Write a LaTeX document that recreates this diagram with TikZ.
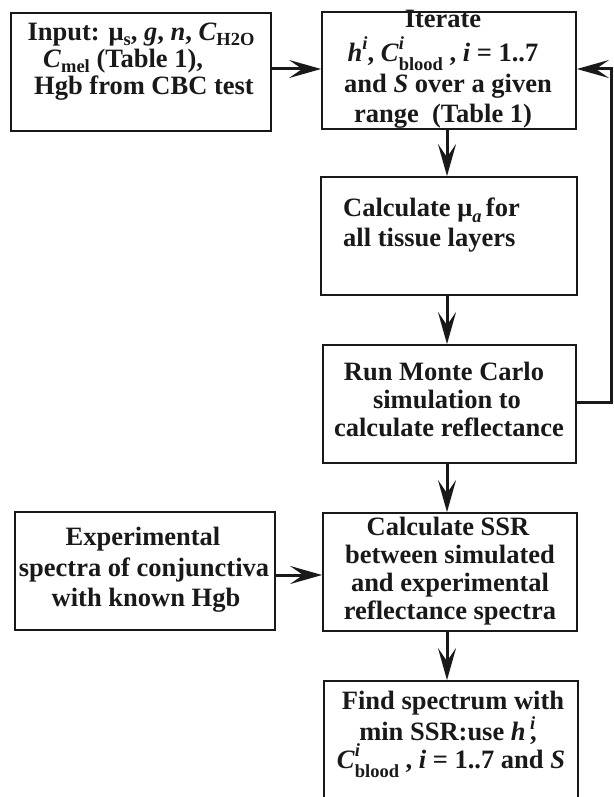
\documentclass[tikz,border=0pt]{standalone}
\usepackage{fontspec}
\setmainfont{Liberation Serif}
\usetikzlibrary{arrows.meta}
\newcommand\mainfs{\fontsize{26.5}{28}\selectfont}
\newcommand\smfs{\fontsize{18.5}{19}\selectfont}
\newcommand\lowr[1]{\raisebox{-5pt}{\smfs #1}}
\newcommand\upr[1]{\raisebox{12pt}{\smfs #1}}
\newcommand\stk[2]{\rlap{\raisebox{12pt}{\smfs #1}}\raisebox{-9pt}{\smfs #2}}
\newcommand\stkc[2]{\rlap{\raisebox{11pt}{\smfs #1}}#2}
\begin{document}
\begin{tikzpicture}[x=1pt,y=-1pt,
  box/.style={draw=black!90,line width=1.8pt,inner sep=0pt,fill=none},
  txt/.style={inner sep=0pt,anchor=base,font=\mainfs\bfseries,text=black!90},
  arr/.style={draw=black!90,line width=3pt,line join=miter,-{Stealth[length=32pt,width=18pt,inset=13pt]}}]
\useasboundingbox (0,0) rectangle (613,797);
% boxes
\node[box,minimum width=260pt,minimum height=118pt] (b1) at (141,72) {};
\node[box,minimum width=254pt,minimum height=117pt] (b2) at (449,70.5) {};
\node[box,minimum width=256pt,minimum height=118pt] (b3) at (449,236) {};
\node[box,minimum width=253pt,minimum height=118pt] (b4) at (449.5,404) {};
\node[box,minimum width=254pt,minimum height=118pt] (b5) at (450,572) {};
\node[box,minimum width=260pt,minimum height=118pt] (b6) at (145,571) {};
\node[box,minimum width=254pt,minimum height=120pt] (b7) at (451,741) {};
% texts
\node[txt] (t1a) at (141,41) {Input: μ\lowr{s}, \textit{g}, \textit{n}, \textit{C}\lowr{H2O}};
\node[txt,anchor=base west] (t1b) at (43,68) {\textit{C}\lowr{mel} (Table 1),};
\node[txt] (t1c) at (144,95) {Hgb from CBC test};
\node[txt] (t2a) at (443,28) {Iterate};
\node[txt] (t2b) at (443,62) {\textit{h}\upr{\textit{i}}, \textit{C}\stk{\textit{i}}{blood} , \textit{i} = 1..7};
\node[txt] (t2c) at (448,93) {and \textit{S} over a given};
\node[txt] (t2d) at (443,122) {range\ \ (Table 1)};
\node[txt,anchor=base west] (t3a) at (343,216) {Calculate μ\raisebox{-6pt}{\smfs\textit{a}}\,for};
\node[txt,anchor=base west] (t3b) at (343,246) {all tissue layers};
\node[txt] (t4a) at (444,380) {Run Monte Carlo};
\node[txt] (t4b) at (447,408) {simulation to};
\node[txt] (t4c) at (449,436) {calculate reflectance};
\node[txt] (t5a) at (448,535) {Calculate SSR};
\node[txt] (t5b) at (450,563) {between simulated};
\node[txt] (t5c) at (450,591) {and experimental};
\node[txt] (t5d) at (450,619) {reflectance spectra};
\node[txt] (t6a) at (143,545) {Experimental};
\node[txt] (t6b) at (144,576) {spectra of conjunctiva};
\node[txt] (t6c) at (146,606) {with known Hgb};
\node[txt] (t7a) at (453,709) {Find spectrum with};
\node[txt] (t7b) at (448,740) {min SSR:use \textit{h}\,\stkc{\textit{i}}{,}};
\node[txt] (t7c) at (451,768) {\textit{C}\stk{\textit{i}}{blood} , \textit{i} = 1..7 and \textit{S}};
% helper coordinates
\coordinate (y1) at (0,69);
\coordinate (ax) at (447,0);
\coordinate (fbc) at (611,402);
\coordinate (y6) at (0,575);
% connectors
\draw[arr] (b1.east |- y1) -- (b2.west |- y1);
\draw[arr] (b2.south -| ax) -- (b3.north -| ax);
\draw[arr] (b3.south -| ax) -- (b4.north -| ax);
\draw[arr] (b4.south -| ax) -- (b5.north -| ax);
\draw[arr] (b5.south -| ax) -- (b7.north -| ax);
\draw[arr] (b4.east |- fbc) -- (fbc) |- (b2.east |- y1);
\draw[arr] (b6.east |- y6) -- (b5.west |- y6);
\end{tikzpicture}
\end{document}
